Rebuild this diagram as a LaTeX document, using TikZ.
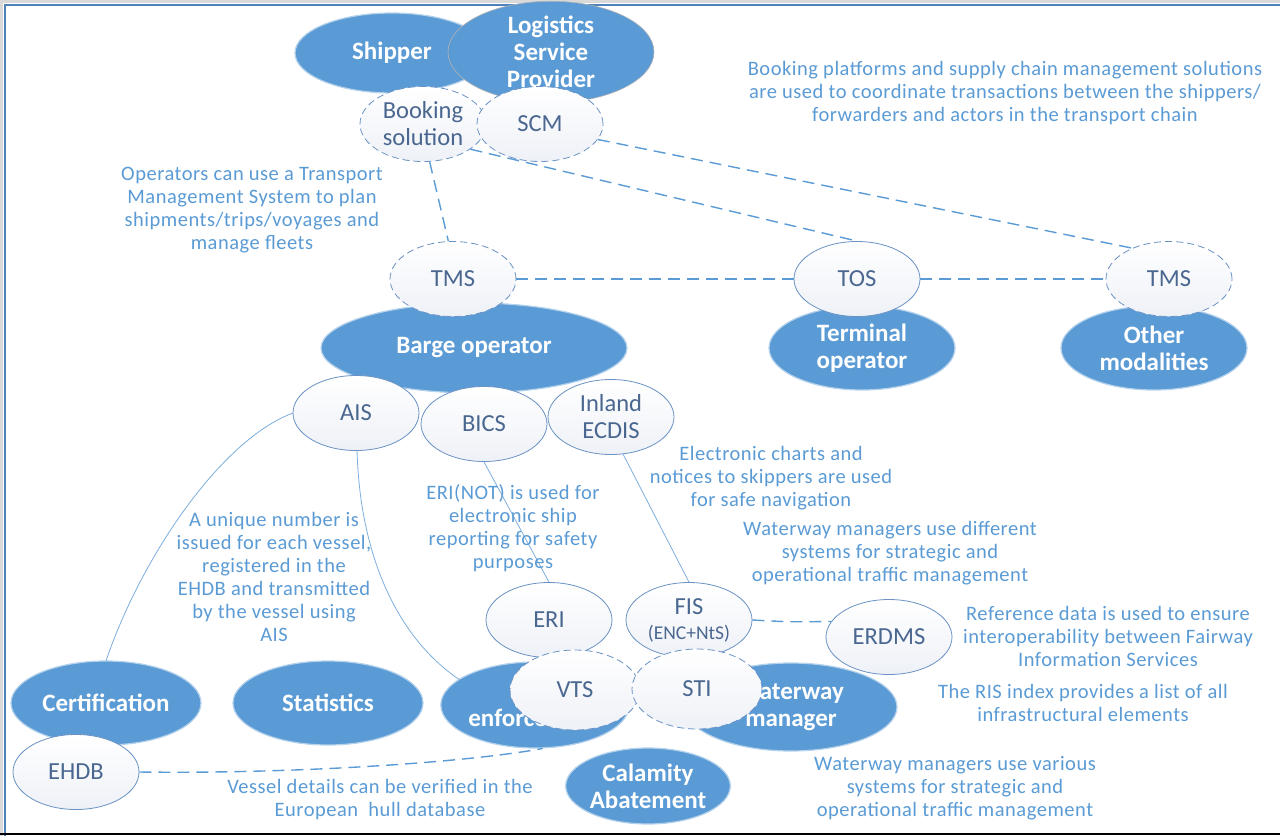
\documentclass[tikz,border=0pt]{standalone}
\usepackage{fontspec}
\setmainfont{Carlito}
\usetikzlibrary{shapes.geometric}

\definecolor{actorfill}{HTML}{5B9BD5}
\definecolor{notetext}{HTML}{5B9BD5}
\definecolor{systext}{HTML}{4A6790}
\definecolor{sysline}{HTML}{6B92C4}
\definecolor{sysbottom}{HTML}{EEF1F7}
\definecolor{linkblue}{HTML}{5B9BD5}
\definecolor{frameblue}{HTML}{4F81BD}
\definecolor{framegray}{HTML}{D9D9D9}
\definecolor{baseline}{HTML}{D5DCE8}

\tikzset{
  actor/.style={ellipse, fill=actorfill, draw=actorfill!45, line width=1.2pt, text=white,
    align=center, inner sep=0pt, font=\fontsize{25}{27}\selectfont\bfseries},
  sysbox/.style={ellipse, draw=sysline, line width=0.8pt, top color=white, bottom color=sysbottom,
    text=systext, align=center, inner sep=0pt, minimum width=126pt, minimum height=75pt,
    font=\fontsize{24.5}{27}\selectfont},
  planned/.style={sysbox, dash pattern=on 7pt off 4pt},
  notetxt/.style={text=notetext, align=center, inner sep=0pt,
    font=\fontsize{20.5}{23}\selectfont\addfontfeature{LetterSpace=2.5}},
  dlink/.style={draw=linkblue, line width=1.4pt, dash pattern=on 12pt off 7pt},
  slink/.style={draw=linkblue!80, line width=0.8pt},
}

\begin{document}
\begin{tikzpicture}[x=1pt,y=-1pt]
\useasboundingbox (0,0) rectangle (1280,836);
\fill[white] (0,0) rectangle (1280,836);

% frame
\fill[framegray] (0,0) rectangle (1280,3);
\fill[framegray] (0,0) rectangle (3,836);
\draw[frameblue, line width=2.5pt] (5,836) -- (5,5) -- (1280,5);
\draw[baseline, line width=1.5pt] (0,834) -- (1280,834);

% actors (filled)
\node[actor, minimum width=194pt, minimum height=80pt] (shipper) at (392,53) {Shipper};
\node[actor, minimum width=206pt, minimum height=84pt, draw=gray!60, line width=0.6pt] (lsp) at (551,52) {Logistics\\Service\\Provider};
\node[actor, minimum width=306pt, minimum height=90pt] (barge) at (474,348) {Barge operator};
\node[actor, minimum width=186pt, minimum height=84pt] (terminal) at (862,348) {Terminal\\operator};
\node[actor, minimum width=186pt, minimum height=84pt] (othermod) at (1154,348) {Other\\modalities};
\node[actor, minimum width=190pt, minimum height=84pt] (cert) at (106,703) {Certification};
\node[actor, minimum width=190pt, minimum height=84pt] (stats) at (328,703) {Statistics};
\node[actor, minimum width=160pt, minimum height=86pt] (law) at (535,705) {Law\\enforcement};
\node[actor, minimum width=212pt, minimum height=88pt] (wwm) at (791,707) {Waterway\\manager};
\node[actor, minimum width=144pt, minimum height=76pt] (calamity) at (648,786) {Calamity\\Abatement};

% connectors from AIS to the actors below
\draw[slink] (293,413) .. controls (220,440) and (140,560) .. (106,661);
\draw[slink] (357,450) .. controls (360,560) and (400,640) .. (460,680);

% systems
\node[planned] (book) at (423,124) {Booking\\solution};
\node[planned] (scm) at (540,124) {SCM};
\node[planned] (tmsA) at (453,279) {TMS};
\node[sysbox] (tos) at (857,279) {TOS};
\node[planned] (tmsB) at (1169,279) {TMS};
\node[sysbox] (ais) at (356,413) {AIS};
\node[sysbox] (bics) at (484,424) {BICS};
\node[sysbox] (ecdis) at (611,417) {Inland\\ECDIS};
\node[sysbox] (eri) at (549,620) {ERI};
\node[sysbox] (fis) at (689,620) {FIS\\[-2pt]{\fontsize{19.5}{22}\selectfont (ENC+NtS)}};
\node[sysbox] (erdms) at (889,637) {ERDMS};
\node[planned, minimum width=130pt, minimum height=80pt] (vts) at (575,690) {VTS};
\node[planned, minimum width=130pt, minimum height=80pt] (sti) at (697,689) {STI};
\node[sysbox] (ehdb) at (76,772) {EHDB};

% dashed connectors between systems
\draw[dlink] (book.-80) -- (tmsA.97);
\draw[dlink] (book.-28) -- (tos.north);
\draw[dlink] (scm.-15) -- (tmsB.140);
\draw[dlink] (tmsA.east) -- (tos.west);
\draw[dlink] (tos.east) -- (tmsB.west);
\draw[dlink] (fis.east) .. controls (790,622) .. (erdms.165);
\draw[dlink] (ehdb.east) .. controls (300,774) and (470,762) .. (law.-80);

% solid connectors between systems
\draw[slink] (bics.south) -- (eri.north);
\draw[slink] (ecdis.-72) -- (fis.north);

% annotations
\node[notetxt] (nbook) at (1005,93) {Booking platforms and supply chain management solutions\\are used to coordinate transactions between the shippers/\\forwarders and actors in the transport chain};
\node[notetxt] (ntms) at (252,210) {Operators can use a Transport\\Management System to plan\\shipments/trips/voyages and\\manage fleets};
\node[notetxt] (necdis) at (771,478) {Electronic charts and\\notices to skippers are used\\for safe navigation};
\node[notetxt] (nwwm1) at (890,553) {Waterway managers use different\\systems for strategic and\\operational traffic management};
\node[notetxt] (neri) at (513,528) {ERI(NOT) is used for\\electronic ship\\reporting for safety\\purposes};
\node[notetxt] (nais) at (274,577) {A unique number is\\issued for each vessel,\\registered in the\\EHDB and transmitted\\by the vessel using\\AIS};
\node[notetxt] (nerdms) at (1108,636) {Reference data is used to ensure\\interoperability between Fairway\\Information Services};
\node[notetxt] (nris) at (1083,703) {The RIS index provides a list of all\\infrastructural elements};
\node[notetxt] (nehdb) at (380,800) {Vessel details can be verified in the\\European\ \ hull database};
\node[notetxt] (nwwm2) at (955,788) {Waterway managers use various\\systems for strategic and\\operational traffic management};
\end{tikzpicture}
\end{document}
